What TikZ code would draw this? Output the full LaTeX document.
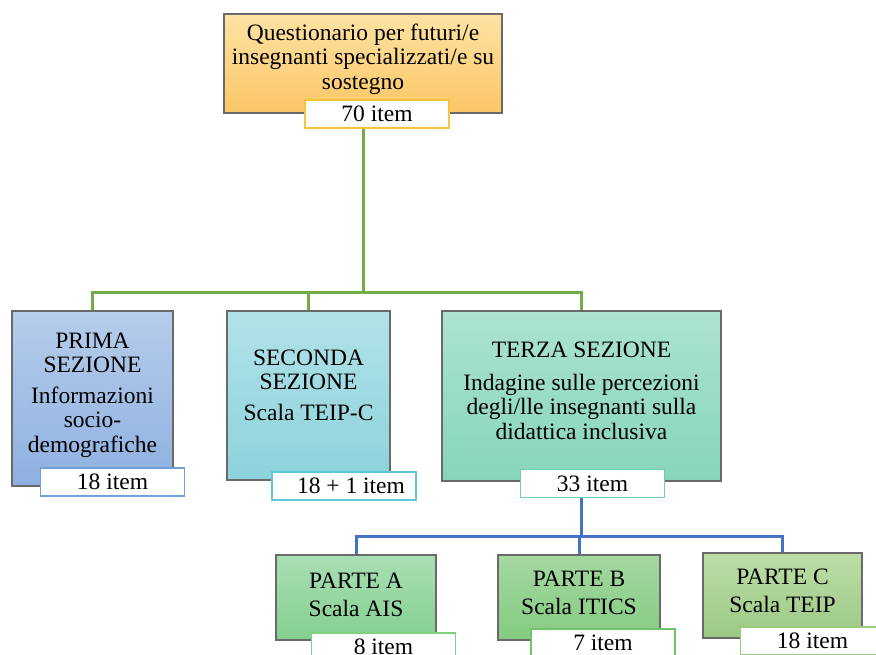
\documentclass[tikz,border=0pt]{standalone}
\usepackage{fontspec}
\setmainfont{Liberation Serif}
\usetikzlibrary{positioning, calc}

\definecolor{boxgray}{RGB}{105,105,105}
\definecolor{treeGreen}{RGB}{112,173,71}
\definecolor{treeBlue}{RGB}{68,114,196}
\definecolor{questTop}{RGB}{254,227,163}
\definecolor{questBot}{RGB}{251,198,102}
\definecolor{questLine}{RGB}{248,197,55}
\definecolor{primaTop}{RGB}{182,205,235}
\definecolor{primaBot}{RGB}{142,176,224}
\definecolor{primaLine}{RGB}{111,160,216}
\definecolor{secondaTop}{RGB}{178,226,232}
\definecolor{secondaBot}{RGB}{141,210,220}
\definecolor{secondaLine}{RGB}{92,200,216}
\definecolor{terzaTop}{RGB}{172,227,209}
\definecolor{terzaBot}{RGB}{134,213,187}
\definecolor{terzaLine}{RGB}{109,207,179}
\definecolor{parteATop}{RGB}{169,223,181}
\definecolor{parteABot}{RGB}{132,207,144}
\definecolor{parteALine}{RGB}{127,208,127}
\definecolor{parteBTop}{RGB}{164,216,162}
\definecolor{parteBBot}{RGB}{132,203,128}
\definecolor{parteBLine}{RGB}{112,196,106}
\definecolor{parteCTop}{RGB}{189,221,166}
\definecolor{parteCBot}{RGB}{155,201,133}
\definecolor{parteCLine}{RGB}{155,205,126}

\begin{document}
\begin{tikzpicture}[x=1pt, y=-1pt,
    every node/.style={font=\fontsize{23.5}{24.5}\selectfont},
    secbox/.style={draw=boxgray, line width=1.5pt, align=center, inner sep=2pt},
    itembox/.style={draw, line width=1.2pt, fill=white, minimum width=144pt, minimum height=28pt, inner sep=0pt},
    greenline/.style={draw=treeGreen, line width=3pt},
    blueline/.style={draw=treeBlue, line width=3pt}
]
    \useasboundingbox (0,0) rectangle (876,655);

    % Root
    \node (quest) [secbox, top color=questTop, bottom color=questBot, minimum width=278pt, minimum height=99pt] at (363,63.5) {};
    \node (questtxt) [align=center] at (363,59) {Questionario per futuri/e\\insegnanti specializzati/e su\\sostegno};

    % Sections
    \node (sec1) [secbox, top color=primaTop, bottom color=primaBot, minimum width=161pt, minimum height=175pt] at (92.5,398.5) {};
    \node (sec1txt) [align=center] at (92.5,395) {PRIMA\\SEZIONE\\[6pt]Informazioni\\socio-\\demografiche};

    \node (sec2) [secbox, top color=secondaTop, bottom color=secondaBot, minimum width=163pt, minimum height=169pt] at (308.5,395.5) {};
    \node (sec2txt) [align=center] at (308.5,385) {SECONDA\\SEZIONE\\[6pt]Scala TEIP-C};

    \node (sec3) [secbox, top color=terzaTop, bottom color=terzaBot, minimum width=279pt, minimum height=170pt] at (581.5,396) {};
    \node (sec3txt) [align=center] at (581.5,391) {TERZA SEZIONE\\[8pt]Indagine sulle percezioni\\degli/lle insegnanti sulla\\didattica inclusiva};

    % Parts
    \node (partA) [secbox, top color=parteATop, bottom color=parteABot, minimum width=160pt, minimum height=85pt] at (356,597.5) {};
    \node (partAtxt) [align=center] at (356,595) {PARTE A\\[4pt]Scala AIS};
    \node (partB) [secbox, top color=parteBTop, bottom color=parteBBot, minimum width=162pt, minimum height=85pt] at (579,597.5) {};
    \node (partBtxt) [align=center] at (579,593) {PARTE B\\[4pt]Scala ITICS};
    \node (partC) [secbox, top color=parteCTop, bottom color=parteCBot, minimum width=159pt, minimum height=85pt] at (782.5,595.5) {};
    \node (partCtxt) [align=center] at (782.5,591) {PARTE C\\[4pt]Scala TEIP};

    % Item labels
    \node (qitem) [itembox, draw=questLine] at (377,114) {70 item};
    \node (item1) [itembox, draw=primaLine] at (112.5,482) {18 item};
    \node (item2) [itembox, draw=secondaLine] at (344,486) {\hspace{14pt}18 + 1 item};
    \node (item3) [itembox, draw=terzaLine] at (592.5,483.5) {33 item};
    \node (itemA) [itembox, draw=parteALine] at (383.5,647) {8 item};
    \node (itemB) [itembox, draw=parteBLine] at (603,643) {7 item};
    \node (itemC) [itembox, draw=parteCLine] at (812.5,641) {18 item};

    % Green tree
    \coordinate (gjoin) at (363,292.5);
    \draw[greenline] (qitem.south -| quest.south) -- (gjoin);
    \draw[greenline] (gjoin) -| (sec1.north);
    \draw[greenline] (gjoin) -| (sec2.north);
    \draw[greenline] (gjoin) -| (sec3.north);

    % Blue tree
    \coordinate (bjoin) at (581.5,536);
    \draw[blueline] (item3.south -| sec3.south) -- (bjoin);
    \draw[blueline] (bjoin) -| (partA.north);
    \draw[blueline] (bjoin) -| (partB.north);
    \draw[blueline] (bjoin) -| (partC.north);
\end{tikzpicture}
\end{document}
